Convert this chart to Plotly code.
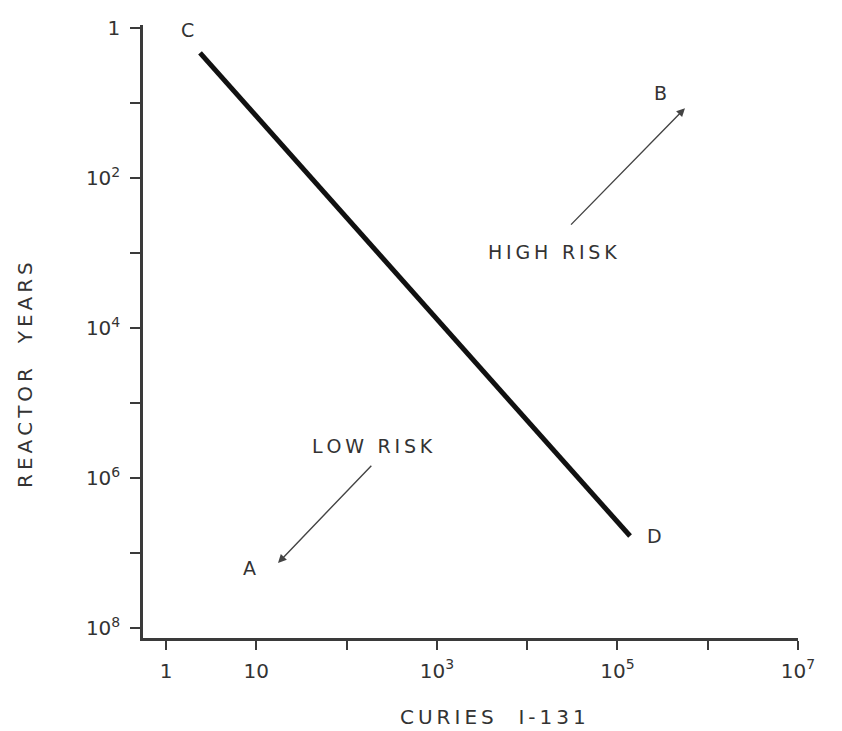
import math
import plotly.graph_objects as go

# Boundary line C -> D  (Curies I-131 vs reactor years)
line_curies = [2.38, 1.38e5]
line_years = [2.15, 5.9e6]

# point labels
label_names = ["C", "D", "A", "B"]
label_curies = [1.74, 2.6e5, 8.5, 3.0e5]
label_years = [1.07, 5.9e6, 1.55e7, 7.4]

# region labels
region_names = ["HIGH RISK", "LOW RISK"]
region_curies = [1.9e4, 195]
region_years = [980, 3.7e5]

# arrows: (tail, head)
arrow_tail_curies = [195, 2.95e4]
arrow_tail_years = [6.5e5, 437]
arrow_head_curies = [17.4, 5.6e5]
arrow_head_years = [1.35e7, 11.7]

x_tickvals = [1, 10, 1e2, 1e3, 1e4, 1e5, 1e6, 1e7]
x_ticktext = ["1", "10", "", "10<sup>3</sup>", "", "10<sup>5</sup>", "", "10<sup>7</sup>"]
y_tickvals = [1, 10, 1e2, 1e3, 1e4, 1e5, 1e6, 1e7, 1e8]
y_ticktext = ["1", "", "10<sup>2</sup>", "", "10<sup>4</sup>", "", "10<sup>6</sup>", "", "10<sup>8</sup>"]

x_title = "CURIES  I-131"
y_title = "REACTOR  YEARS"

L = math.log10
FONT = "DejaVu Sans"
INK = "#333333"
THIN = "\u2009"


def spaced(s):
    return THIN.join(list(s))


fig = go.Figure()
fig.add_trace(go.Scatter(x=line_curies, y=line_years, mode="lines",
                         line=dict(color="#111111", width=5), showlegend=False,
                         hoverinfo="skip"))

ann = []
for n, xv, yv in zip(label_names, label_curies, label_years):
    ann.append(dict(x=L(xv), y=L(yv), xref="x", yref="y", text=n, showarrow=False,
                    font=dict(family=FONT, size=19, color=INK)))
for n, xv, yv in zip(region_names, region_curies, region_years):
    ann.append(dict(x=L(xv), y=L(yv), xref="x", yref="y", text=spaced(n), showarrow=False,
                    font=dict(family=FONT, size=19, color=INK)))
for tx, ty, hx, hy in zip(arrow_tail_curies, arrow_tail_years, arrow_head_curies, arrow_head_years):
    ann.append(dict(x=L(hx), y=L(hy), xref="x", yref="y",
                    ax=L(tx), ay=L(ty), axref="x", ayref="y",
                    text="", showarrow=True, arrowhead=2, arrowsize=1.2,
                    arrowwidth=1.4, arrowcolor="#444444"))

# page has an 8px body margin; size the figure so it ends at the window edge
OFF = 8
W, H = 842 - OFF, 731 - OFF
ml, mt = 143 - OFF, 25 - OFF
mr, mb = W - (798 - OFF), H - (638 - OFF)
pw, ph = W - ml - mr, H - mt - mb

ann.append(dict(x=(493 - OFF - ml) / pw, y=1 - (717 - OFF - mt) / ph, xref="paper", yref="paper",
                xanchor="center", yanchor="middle",
                text=spaced(x_title), showarrow=False,
                font=dict(family=FONT, size=20, color=INK)))
ann.append(dict(x=(25 - OFF - ml) / pw, y=1 - (375 - OFF - mt) / ph, xref="paper", yref="paper",
                xanchor="center", yanchor="middle",
                text=spaced(y_title), showarrow=False, textangle=-90,
                font=dict(family=FONT, size=20, color=INK)))

axis_common = dict(type="log", showgrid=False, zeroline=False, automargin=False,
                   showline=True, linecolor="#3a3a3a", linewidth=2.5,
                   ticks="outside", tickwidth=2, tickcolor="#3a3a3a",
                   tickfont=dict(family=FONT, size=20, color=INK))

fig.update_layout(
    width=W, height=H,
    margin=dict(l=ml, r=mr, t=mt, b=mb, autoexpand=False),
    paper_bgcolor="white", plot_bgcolor="white",
    annotations=ann,
    font=dict(family=FONT, size=18, color=INK),
    xaxis=dict(range=[-0.255, 7.0], ticklen=9, ticklabelstandoff=4,
               tickvals=x_tickvals, ticktext=x_ticktext, **axis_common),
    yaxis=dict(range=[8.13, -0.04], ticklen=10, ticklabelstandoff=6,
               tickvals=y_tickvals, ticktext=y_ticktext, **axis_common),
)

fig.write_html("out.html")
